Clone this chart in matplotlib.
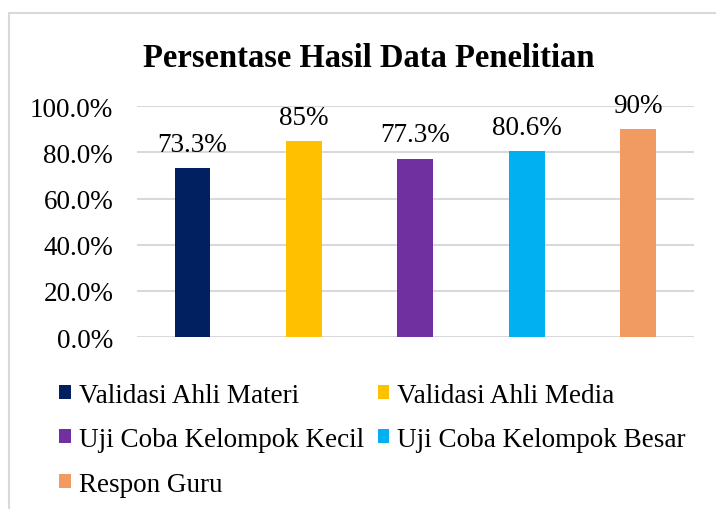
import matplotlib.pyplot as plt
from matplotlib.patches import Rectangle
from matplotlib.ticker import FuncFormatter

plt.rcParams['font.family'] = ['Liberation Serif', 'DejaVu Serif']

categories = ["Validasi Ahli Materi", "Validasi Ahli Media",
              "Uji Coba Kelompok Kecil", "Uji Coba Kelompok Besar",
              "Respon Guru"]
values = [0.733, 0.85, 0.773, 0.806, 0.90]
value_labels = ["73.3%", "85%", "77.3%", "80.6%", "90%"]
colors = ["#002060", "#FFC000", "#7030A0", "#00B0F0", "#F19B62"]
yticks = [0.0, 0.2, 0.4, 0.6, 0.8, 1.0]

fig = plt.figure(figsize=(7.16, 5.10), dpi=100)
ax = fig.add_axes([0.191, 0.337, 0.778, 0.453])

handles = []
for i, (cat, v, lab, c) in enumerate(zip(categories, values, value_labels, colors)):
    b = ax.bar(i, v, width=0.32, color=c, label=cat, zorder=3)
    ax.bar_label(b, labels=[lab], padding=8, fontsize=19.5, clip_on=False)
    handles.append(b)

ax.set_xlim(-0.5, 4.5)
ax.set_ylim(0, 1.0)
ax.set_yticks(yticks)
ax.yaxis.set_major_formatter(FuncFormatter(lambda y, _: f"{y*100:.1f}%"))
ax.tick_params(axis='y', labelsize=19.5, length=0, pad=17)
ax.set_xticks([])
ax.grid(axis='y', color='#D9D9D9', linewidth=1.5, zorder=0)
for s in ax.spines.values():
    s.set_visible(False)

fig.text(0.515, 0.886, "Persentase Hasil Data Penelitian", ha='center', va='center',
         fontsize=23.5, fontweight='bold')

# legend filled row by row like the original
order = [0, 2, 4, 1, 3]
fig.legend([handles[k] for k in order], [categories[k] for k in order],
           loc='upper left', bbox_to_anchor=(0.083, 0.248), ncol=2, frameon=False,
           fontsize=19.5, handlelength=0.42, handleheight=0.42, handletextpad=0.3,
           columnspacing=0.5, labelspacing=0.72, borderpad=0, borderaxespad=0)

# chart frame
fig.patches.append(Rectangle((0.012, -0.05), 1.2, 1.022, transform=fig.transFigure,
                             fill=False, edgecolor='#D9D9D9', linewidth=1.5))

fig.savefig("out.png", dpi=100)
